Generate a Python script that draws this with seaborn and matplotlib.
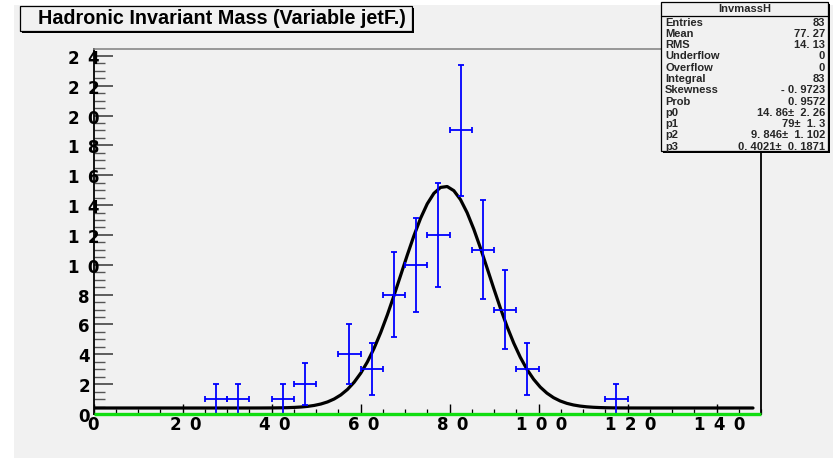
import numpy as np
import pandas as pd
import seaborn as sns
import matplotlib
matplotlib.use("Agg")
import matplotlib.pyplot as plt
from matplotlib.patches import Rectangle
from matplotlib.lines import Line2D
import matplotlib.transforms as mtransforms

# ---------------- data ----------------
bin_centers = [27.5, 32.5, 42.5, 47.5, 57.5, 62.5, 67.5, 72.5, 77.5, 82.5, 87.5, 92.5, 97.5, 117.5]
counts = [1, 1, 1, 2, 4, 3, 8, 10, 12, 19, 11, 7, 3, 1]
count_errors = [1.0, 1.0, 1.0, 1.41, 2.0, 1.73, 2.83, 3.16, 3.46, 4.36, 3.32, 2.65, 1.73, 1.0]
bin_half_width = 2.5
fit_params = [14.86, 79.0, 9.846, 0.4021]  # p0 amplitude, p1 mean, p2 sigma, p3 constant
x_ticks = [0, 20, 40, 60, 80, 100, 120, 140]
x_tick_labels = ["0", "20", "40", "60", "80", "100", "120", "140"]
y_ticks = [0, 2, 4, 6, 8, 10, 12, 14, 16, 18, 20, 22, 24]
y_tick_labels = ["0", "2", "4", "6", "8", "10", "12", "14", "16", "18", "20", "22", "24"]
title = "Hadronic Invariant Mass (Variable jetF.)"
stats_name = "InvmassH"
stats_rows = [
    ("Entries", "83"), ("Mean", "77. 27"), ("RMS", "14. 13"), ("Underflow", "0"),
    ("Overflow", "0"), ("Integral", "83"), ("Skewness", "- 0. 9723"), ("Prob", "0. 9572"),
    ("p0", "14. 86\u00b1  2. 26"), ("p1", "79\u00b1  1. 3"), ("p2", "9. 846\u00b1  1. 102"),
    ("p3", "0. 4021\u00b1  0. 1871"),
]

# ---------------- figure ----------------
sns.set_theme(style="white")
plt.rcParams['font.family'] = ['Liberation Sans', 'DejaVu Sans']

W, H = 833, 458
fig = plt.figure(figsize=(W / 100, H / 100), dpi=100)
fig.patch.set_facecolor("white")
BG = "#f1f1f1"

def fx(px):
    return px / W

def fy(py):
    return 1 - py / H

def spaced(s):
    # ROOT renders the axis digits with wide gaps between them
    return "\u2002".join(list(s))

# canvas grey area
fig.patches.append(Rectangle((fx(14), 0), 1 - fx(14), fy(5), transform=fig.transFigure,
                             facecolor=BG, edgecolor="none", zorder=-5))

ax_l, ax_r, ax_t, ax_b = 93.5, 761, 49, 414
ax = fig.add_axes([fx(ax_l), fy(ax_b), fx(ax_r) - fx(ax_l), fy(ax_t) - fy(ax_b)])
ax.set_zorder(1)
ax.set_facecolor(BG)
ax.set_xlim(0, 150)
ax.set_ylim(0, 24.46)

# fit curve
p0, p1, p2, p3 = fit_params
xf = np.linspace(0.3, 148.2, 100)
yf = p0 * np.exp(-0.5 * ((xf - p1) / p2) ** 2) + p3
sns.lineplot(x=xf, y=yf, ax=ax, color="black", linewidth=2.3, zorder=3, sort=False)

# histogram points with errors
df = pd.DataFrame({"x": bin_centers, "y": counts, "err": count_errors})
ax.errorbar(df["x"], df["y"], yerr=df["err"], xerr=bin_half_width, fmt="none",
            ecolor="#0000ff", elinewidth=1.3, capsize=2.3, capthick=1.3, zorder=4)

# green baseline
ax.plot([0, 150], [0, 0], color="#11dd11", linewidth=2.4, zorder=5, clip_on=False,
        solid_capstyle="butt")

# spines
for s in ["left", "right", "bottom"]:
    ax.spines[s].set_color("black")
    ax.spines[s].set_linewidth(1.3)
ax.spines["top"].set_color("#888888")
ax.spines["top"].set_linewidth(1.2)

# ticks
ax.set_xticks(x_ticks)
ax.set_xticks(np.arange(0, 151, 5), minor=True)
ax.set_yticks(y_ticks)
ax.set_yticks(np.arange(0, 24.5, 0.5), minor=True)
ax.tick_params(axis="x", which="major", direction="in", length=7.2, width=1.0, color="black",
               labelbottom=False, bottom=True)
ax.tick_params(axis="x", which="minor", direction="in", length=3.6, width=0.9, color="black",
               bottom=True)
ax.tick_params(axis="y", which="major", direction="in", length=14, width=1.2, color="#444444",
               labelleft=False, left=True)
ax.tick_params(axis="y", which="minor", direction="in", length=8, width=1.0, color="#555555",
               left=True)

LBL_FONT = dict(fontsize=12, fontweight="bold", color="black", family=["DejaVu Sans"])

# tick labels as text
ty = mtransforms.blended_transform_factory(fig.transFigure, ax.transData)
for v, lab in zip(y_ticks, y_tick_labels):
    ax.text(fx(84), v - 0.2, spaced(lab), transform=ty, ha="center", va="center",
            clip_on=False, zorder=6, **LBL_FONT)
tx = mtransforms.blended_transform_factory(ax.transData, fig.transFigure)
for v, lab in zip(x_ticks, x_tick_labels):
    off = 0 if v == 0 else 0.8
    ax.text(v + off, fy(425), spaced(lab), transform=tx, ha="center", va="center",
            clip_on=False, zorder=6, **LBL_FONT)

# title box
def boxed(x0, y0, x1, y1, z=10):
    fig.patches.append(Rectangle((fx(x0 + 2), fy(y1 + 2)), fx(x1) - fx(x0), fy(y0) - fy(y1),
                                 transform=fig.transFigure, facecolor="black",
                                 edgecolor="none", zorder=z))
    fig.patches.append(Rectangle((fx(x0), fy(y1)), fx(x1) - fx(x0), fy(y0) - fy(y1),
                                 transform=fig.transFigure, facecolor=BG,
                                 edgecolor="black", linewidth=0.9, zorder=z + 0.1))

boxed(20, 6, 412, 31)
fig.text(fx(38), fy(19), title, ha="left", va="center", fontsize=14.2, fontweight="bold",
         color="black", zorder=12)

# stats box
boxed(661, 2, 828, 151)
fig.lines.append(Line2D([fx(661), fx(828)], [fy(16), fy(16)], transform=fig.transFigure,
                        color="black", linewidth=0.9, zorder=11))
fig.text(fx(745), fy(9.5), stats_name, ha="center", va="center", fontsize=8,
         fontweight="bold", zorder=12)
for i, (k, v) in enumerate(stats_rows):
    yy = fy(22.5 + i * 11.3)
    fig.text(fx(665), yy, k, ha="left", va="center", fontsize=8, fontweight="bold", zorder=12)
    fig.text(fx(825), yy, v, ha="right", va="center", fontsize=8, fontweight="bold", zorder=12)

fig.savefig("out.png", dpi=100, facecolor=fig.get_facecolor())
